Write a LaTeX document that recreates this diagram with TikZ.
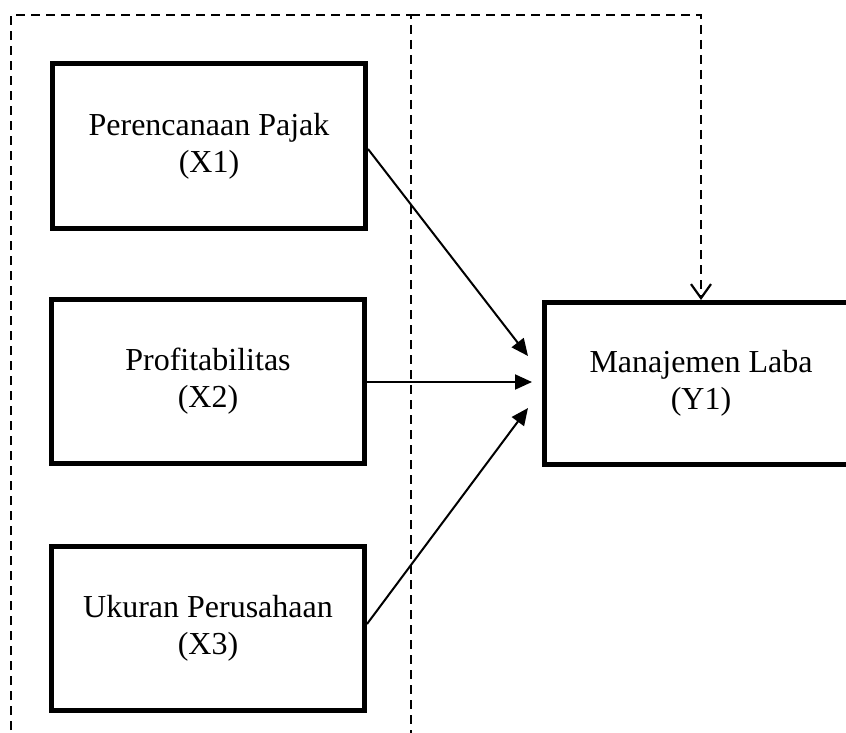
\documentclass[tikz,border=0pt]{standalone}
\usepackage{fontspec}
\setmainfont{Liberation Serif}
\usetikzlibrary{arrows.meta}
\tikzset{
	var/.style = {draw, line width = 2.5pt, align = center, minimum width = 156.5pt, minimum height = 82pt, font = \fontsize{16}{18.5}\selectfont},
	path/.style = {line width = 1pt, -{Triangle[length = 8.5pt, width = 7.5pt]}},
	frame/.style = {dashed, dash pattern = on 4.5pt off 3pt, line width = 0.8pt}
}
\begin{document}
\begin{tikzpicture}[x = 0.5pt, y = -0.5pt]
%	\draw[help lines] (0,0) grid (846,733);
	\useasboundingbox (0,0) rectangle (846,733);
	\node [var] (x1) at (209,146) {Perencanaan Pajak\\(X1)};
	\node [var] (x2) at (208,381.5) {Profitabilitas\\(X2)};
	\node [var] (x3) at (208,628) {Ukuran Perusahaan\\(X3)};
	\node [var, minimum height = 81pt] (y1) at (701,383.5) {Manajemen Laba\\(Y1)};
	\coordinate (t1) at (528,356);
	\coordinate (t2) at (532,382);
	\coordinate (t3) at (528,408);
	\draw [path] (x1.east |- 0,149) -- (t1);
	\draw [path] (x2.east |- t2) -- (t2);
	\draw [path] (x3.east |- 0,624) -- (t3);
	\coordinate (c1) at (11,745);
	\coordinate (c2) at (11,15);
	\coordinate (c3) at (411,15);
	\coordinate (c4) at (411,745);
	\coordinate (c5) at (y1.north |- c2);
	\draw [frame] (c1) -- (c2) -- (c3) -- (c4);
	\draw [frame, line width = 1.1pt, -{Straight Barb[length = 7pt, width = 10pt]}] (c3) -- (c5) -- (y1.north);
\end{tikzpicture}
\end{document}
